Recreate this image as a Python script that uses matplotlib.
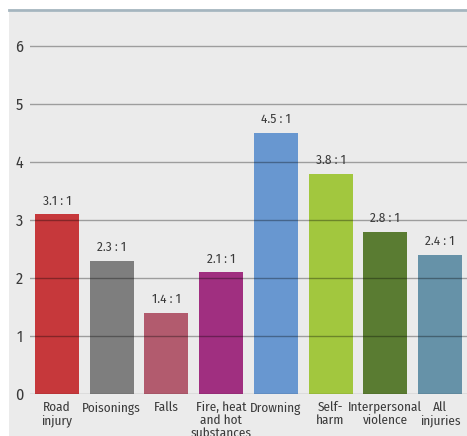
import matplotlib
matplotlib.use("Agg")
import matplotlib.pyplot as plt
from matplotlib.patches import Rectangle
from matplotlib.lines import Line2D
from matplotlib import font_manager

categories = ["Road\ninjury", "Poisonings", "Falls", "Fire, heat\nand hot\nsubstances",
              "Drowning", "Self-\nharm", "Interpersonal\nviolence", "All\ninjuries"]
ratios = [3.1, 2.3, 1.4, 2.1, 4.5, 3.8, 2.8, 2.4]
colors = ["#c6383b", "#7e7e7e", "#b25b6e", "#a02f80", "#6897d0", "#a2c73e", "#5a7c32", "#6692a8"]
yticks = [0, 1, 2, 3, 4, 5, 6]

W, H = 467, 436
fig = plt.figure(figsize=(W / 100, H / 100), dpi=100)
fig.patch.set_facecolor("white")

# grey panel and top rule
fig.patches.append(Rectangle((9 / W, 0), 1 - 9 / W, (H - 12) / H,
                             transform=fig.transFigure, facecolor="#ebebeb",
                             edgecolor="none", zorder=-5))
fig.lines.append(Line2D([9 / W, 1], [(H - 10) / H] * 2, transform=fig.transFigure,
                        color="#a5b5bf", linewidth=2.0, zorder=-4))

left, right = 30, 467
bottom, top = 394, 12
ax = fig.add_axes([left / W, (H - bottom) / H, (right - left) / W, (bottom - top) / H])
ax.set_zorder(2)
ax.set_facecolor("none")
pitch = 54.71
x0 = -27 / pitch
ax.set_xlim(x0, x0 + (right - left) / pitch)
ax.set_ylim(0, (bottom - top) / 58.0)

# pick a condensed sans face if one is available
names = {f.name for f in font_manager.fontManager.ttflist}
candidates = ["Fira Sans Condensed", "PT Sans Narrow", "Roboto Condensed",
              "Open Sans Condensed", "IBM Plex Sans Condensed", "Encode Sans Condensed",
              "Asap Condensed", "Archivo Narrow", "Liberation Sans Narrow", "Arimo"]
narrow = next((c for c in candidates if c in names), "DejaVu Sans")
font = [narrow, "DejaVu Sans"]

xs = list(range(len(categories)))
ax.bar(xs, ratios, width=44 / pitch, color=colors, zorder=2)

for y in yticks:
    ax.axhline(y, color="black", alpha=0.33, linewidth=1.0, zorder=3)

for x, v in zip(xs, ratios):
    ax.text(x, v + 0.12, f"{v:.1f} : 1", ha="center", va="bottom",
            fontsize=9.5, color="#3a3a3a", family=font, zorder=4)

ax.set_yticks(yticks)
ax.set_yticklabels([str(t) for t in yticks], family=font, fontsize=11.5, color="#3a3a3a")
ax.set_xticks(xs)
ax.set_xticklabels(categories, family=font, fontsize=9.5, color="#3a3a3a",
                   linespacing=1.05)
ax.tick_params(axis="both", length=0)
ax.tick_params(axis="y", pad=5)
ax.tick_params(axis="x", pad=5.5)
for s in ax.spines.values():
    s.set_visible(False)

fig.savefig("out.png", dpi=100)
